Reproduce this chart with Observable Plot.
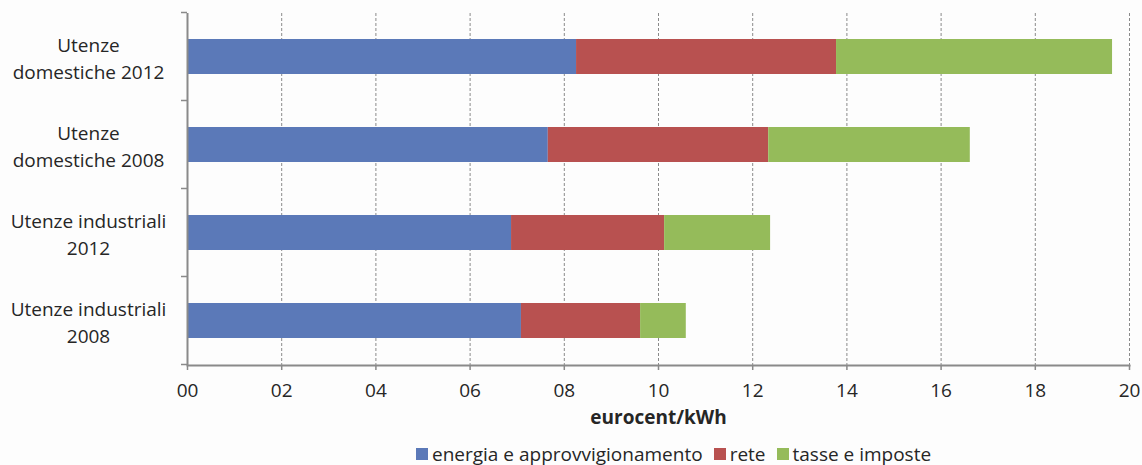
<!DOCTYPE html>
<html>
<head>
<meta charset="utf-8">
<script src="https://cdn.jsdelivr.net/npm/d3@7"></script>
<script src="https://cdn.jsdelivr.net/npm/@observablehq/plot@0.6"></script>
<style>
  html, body { margin: 0; padding: 0; background: #fdfdfd; }
  body { width: 1142px; height: 465px; overflow: hidden; font-family: "Open Sans", sans-serif; }
  #chart svg { display: block; }
  .legend { display: flex; align-items: center; height: 25px; padding-left: 416px; padding-top: 1px;
            font-size: 19px; color: #262626; white-space: nowrap; }
  .legend .sw { width: 12px; height: 12px; display: inline-block; margin-right: 4px; }
  .legend .item { display: flex; align-items: center; margin-right: 11px; }
</style>
</head>
<body>
<div id="chart"></div>
<script>
// Categories (top to bottom) and their two-line axis labels
const categories = ["dom2012", "dom2008", "ind2012", "ind2008"];
const categoryLabels = [
  "Utenze\ndomestiche 2012",
  "Utenze\ndomestiche 2008",
  "Utenze industriali\n2012",
  "Utenze industriali\n2008"
];

// Price components, eurocent/kWh
const seriesNames = ["energia e approvvigionamento", "rete", "tasse e imposte"];
const energia = [8.26, 7.66, 6.88, 7.09];
const rete    = [5.52, 4.68, 3.25, 2.53];
const tasse   = [5.86, 4.28, 2.25, 0.97];
const seriesColors = ["#5b79b8", "#b85150", "#95bb5a"];

const xTicks = [0, 2, 4, 6, 8, 10, 12, 14, 16, 18, 20];

// Long table for the stacked bars
const seriesValues = [energia, rete, tasse];
const rows = [];
seriesNames.forEach((s, si) => {
  categories.forEach((c, ci) => rows.push({category: c, series: s, value: seriesValues[si][ci]}));
});

const labelOf = new Map(categories.map((c, i) => [c, categoryLabels[i]]));
const axisGrey = "#8a8a8a";

const chart = Plot.plot({
  width: 1142,
  height: 440,
  marginLeft: 187,
  marginRight: 13,
  marginTop: 13,
  marginBottom: 75,
  style: {fontFamily: "'Open Sans', sans-serif", fontSize: "19px", color: "#262626", background: "transparent"},
  x: {domain: [0, 20], ticks: xTicks, tickFormat: d3.format("02d")},
  y: {domain: categories, paddingInner: 0.6, paddingOuter: 0.3},
  color: {domain: seriesNames, range: seriesColors},
  marks: [
    Plot.gridX(xTicks.filter(t => t > 0), {stroke: "#8a8a8a", strokeOpacity: 1, strokeDasharray: "3,2"}),
    Plot.barX(rows, Plot.stackX({x: "value", y: "category", fill: "series", order: seriesNames})),
    Plot.ruleX([0], {stroke: axisGrey, strokeWidth: 2}),
    Plot.frame({anchor: "bottom", stroke: axisGrey, strokeWidth: 2}),
    Plot.axisX({ticks: xTicks, tickFormat: d3.format("02d"), tickSize: 5, tickPadding: 13,
                stroke: axisGrey, strokeWidth: 1.5, fill: "#262626", fontSize: 19, label: null}),
    Plot.axisY({ticks: [], label: null}),
    Plot.text(categories, {y: d => d, text: d => labelOf.get(d), frameAnchor: "left", dx: -99,
                           textAnchor: "middle", lineHeight: 1.38, fontSize: 19, fill: "#262626"}),
    Plot.text(["eurocent/kWh"], {frameAnchor: "bottom", dy: 58, text: d => d,
                                 fontWeight: "bold", fontSize: 19, fill: "#262626"})
  ]
});

// Category-boundary tick marks on the left axis, from the band scale
const ys = chart.scale("y");
const svg = d3.select(chart);
const g = svg.append("g").attr("stroke", axisGrey).attr("stroke-width", 1.5);
const bounds = [];
categories.forEach((c, i) => {
  const center = ys.apply(c) + ys.bandwidth / 2;
  if (i === 0) bounds.push(center - ys.step / 2);
  bounds.push(center + ys.step / 2);
});
bounds.forEach(b => {
  g.append("line").attr("x1", 181).attr("x2", 187).attr("y1", b).attr("y2", b);
});

document.getElementById("chart").appendChild(chart);

// Legend below the plot
const legend = d3.select("body").append("div").attr("class", "legend");
seriesNames.forEach((s, i) => {
  const item = legend.append("div").attr("class", "item");
  item.append("span").attr("class", "sw").style("background", seriesColors[i]);
  item.append("span").text(s);
});
</script>
</body>
</html>
